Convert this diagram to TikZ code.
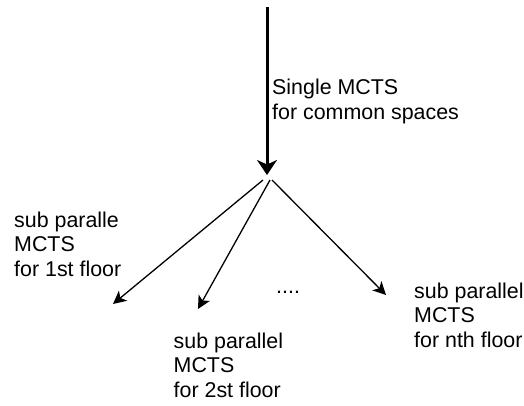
\documentclass[tikz,border=0pt]{standalone}
\usepackage{fontspec}
\setmainfont{Liberation Sans}
\usetikzlibrary{arrows.meta}

\begin{document}
\begin{tikzpicture}[
    x=1pt, y=-1pt,
    every node/.style={font=\fontsize{21.4}{24.5}\selectfont},
    % base of a caption = baseline of its last line
    caption/.style={align=left, inner sep=0pt, anchor=base west},
    mainarrow/.style={-{Stealth[length=15pt,width=20pt,inset=4.5pt]}, line width=3pt},
    subarrow/.style={-{Stealth[length=13pt,width=13pt,inset=3.5pt]}, line width=1.3pt},
]
\useasboundingbox (0,0) rectangle (524,405);

% Main search over the common spaces
\coordinate (top) at (267,7);
\coordinate (hub) at (267,175);
\draw[mainarrow] (top) -- (hub);
\node[caption] (common) at (272,119) {Single MCTS\\for common spaces};

% Branch starts, just under the hub
\coordinate (start1) at (263,180);
\coordinate (start2) at (270,180);
\coordinate (startn) at (272,180);

% Branch ends
\coordinate (end1) at (113,304);
\coordinate (end2) at (198,309);
\coordinate (endn) at (386,295);

\draw[subarrow] (start1) -- (end1);
\draw[subarrow] (start2) -- (end2);
\draw[subarrow] (startn) -- (endn);

% Per-floor searches
\node[caption] (floor1) at (14,276) {sub paralle\\MCTS\\for 1st floor};
\node[caption] (floor2) at (173.5,397) {sub parallel\\MCTS\\for 2st floor};
\node[caption] (floorn) at (414,347) {sub parallel\\MCTS\\for nth floor};
\node[caption] (dots) at (276,293) {....};

\end{tikzpicture}
\end{document}
